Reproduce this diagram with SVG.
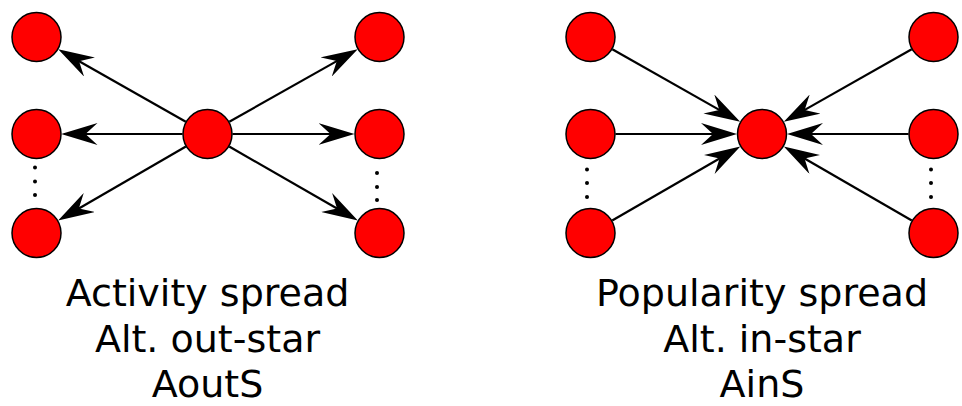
<svg xmlns="http://www.w3.org/2000/svg" width="962" height="406" viewBox="0 0 962 406">
<style>
.node{fill:#ff0000;stroke:#000;stroke-width:1.5}
.edge{stroke:#000;stroke-width:2.2;fill:none;marker-end:url(#ah)}
.dot{fill:#000}
.lbl{font-family:"DejaVu Sans",Verdana,sans-serif;font-size:38px;fill:#000;text-anchor:middle}
</style>
<defs>
<marker id="ah" markerUnits="userSpaceOnUse" viewBox="0 0 36 22" markerWidth="36" markerHeight="22" refX="16" refY="11" orient="auto">
<path d="M36,11 L0,0 L12,11 L0,22 Z" fill="#000"/>
</marker>
</defs>
<g id="connectors">
<line class="edge" x1="185.8" y1="121.7" x2="75.6" y2="59.2"/>
<line class="edge" x1="182.5" y1="134" x2="81.5" y2="134"/>
<line class="edge" x1="185.9" y1="146.5" x2="75.4" y2="210.5"/>
<line class="edge" x1="229.3" y1="121.7" x2="340.3" y2="59.1"/>
<line class="edge" x1="232.5" y1="134" x2="334.5" y2="134"/>
<line class="edge" x1="229.2" y1="146.5" x2="340.5" y2="210.5"/>
<line class="edge" x1="612.3" y1="49.3" x2="722.8" y2="111.9"/>
<line class="edge" x1="615.5" y1="134" x2="717" y2="134"/>
<line class="edge" x1="612.2" y1="220.5" x2="723" y2="156.5"/>
<line class="edge" x1="911.7" y1="49.3" x2="801.2" y2="111.9"/>
<line class="edge" x1="908.5" y1="134" x2="807" y2="134"/>
<line class="edge" x1="911.8" y1="220.5" x2="801.1" y2="156.5"/>
</g>
<g id="out-center"><circle class="node" cx="207.5" cy="134" r="24.5"/></g>
<g id="out-l1"><circle class="node" cx="36.5" cy="37" r="24.5"/></g>
<g id="out-l2"><circle class="node" cx="36.5" cy="134" r="24.5"/></g>
<g id="out-l3"><circle class="node" cx="36.5" cy="233" r="24.5"/></g>
<g id="out-r1"><circle class="node" cx="379.5" cy="37" r="24.5"/></g>
<g id="out-r2"><circle class="node" cx="379.5" cy="134" r="24.5"/></g>
<g id="out-r3"><circle class="node" cx="379.5" cy="233" r="24.5"/></g>
<g id="in-center"><circle class="node" cx="762" cy="134" r="24.5"/></g>
<g id="in-l1"><circle class="node" cx="590.5" cy="37" r="24.5"/></g>
<g id="in-l2"><circle class="node" cx="590.5" cy="134" r="24.5"/></g>
<g id="in-l3"><circle class="node" cx="590.5" cy="233" r="24.5"/></g>
<g id="in-r1"><circle class="node" cx="933.5" cy="37" r="24.5"/></g>
<g id="in-r2"><circle class="node" cx="933.5" cy="134" r="24.5"/></g>
<g id="in-r3"><circle class="node" cx="933.5" cy="233" r="24.5"/></g>
<g id="dots">
<circle class="dot" cx="35" cy="167.5" r="2"/><circle class="dot" cx="35" cy="181.5" r="2"/><circle class="dot" cx="35" cy="195" r="2"/>
<circle class="dot" cx="377" cy="173" r="2"/><circle class="dot" cx="377" cy="187" r="2"/><circle class="dot" cx="377" cy="200" r="2"/>
<circle class="dot" cx="587" cy="169.5" r="2"/><circle class="dot" cx="587" cy="183" r="2"/><circle class="dot" cx="587" cy="197" r="2"/>
<circle class="dot" cx="931" cy="169.5" r="2"/><circle class="dot" cx="931" cy="183" r="2"/><circle class="dot" cx="931" cy="197" r="2"/>
</g>
<g id="labels">
<text class="lbl" x="207.5" y="306">Activity spread</text>
<text class="lbl" x="207.5" y="352">Alt. out-star</text>
<text class="lbl" x="207.5" y="396.5">AoutS</text>
<text class="lbl" x="762" y="306">Popularity spread</text>
<text class="lbl" x="762" y="352">Alt. in-star</text>
<text class="lbl" x="762" y="396.5">AinS</text>
</g>
</svg>
